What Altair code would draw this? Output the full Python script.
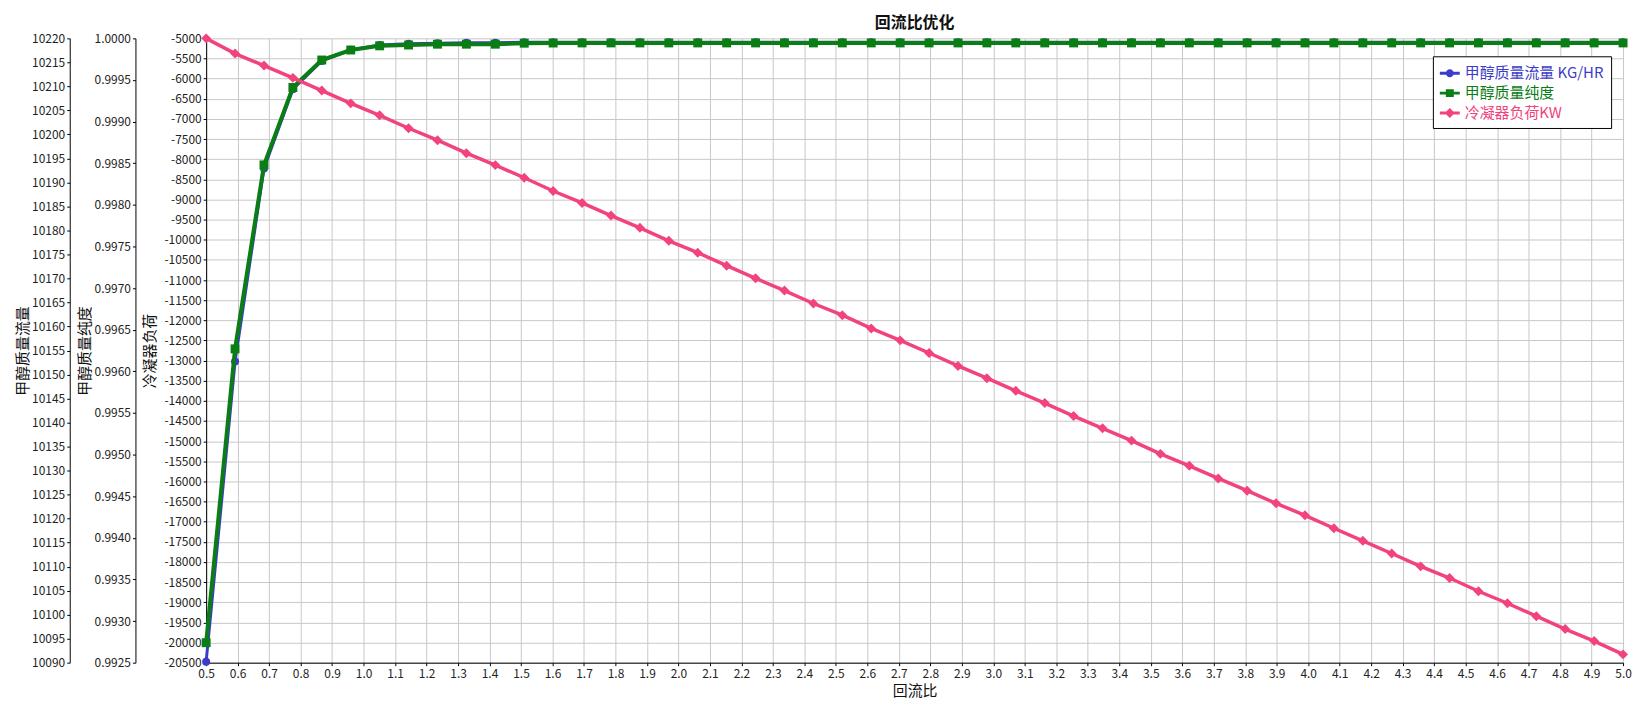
import altair as alt
import pandas as pd

# ---------------- data ----------------
reflux_ratio = [
    0.5, 0.5918, 0.6837, 0.7755, 0.8673, 0.9592, 1.051, 1.1429, 1.2347, 1.3265,
    1.4184, 1.5102, 1.602, 1.6939, 1.7857, 1.8776, 1.9694, 2.0612, 2.1531, 2.2449,
    2.3367, 2.4286, 2.5204, 2.6122, 2.7041, 2.7959, 2.8878, 2.9796, 3.0714, 3.1633,
    3.2551, 3.3469, 3.4388, 3.5306, 3.6224, 3.7143, 3.8061, 3.898, 3.9898, 4.0816,
    4.1735, 4.2653, 4.3571, 4.449, 4.5408, 4.6327, 4.7245, 4.8163, 4.9082, 5.0,
]

methanol_flow = [
    10090.2, 10152.7, 10192.9, 10209.4, 10215.3, 10217.6, 10218.6, 10218.9, 10219.0, 10219.1,
    10219.1, 10219.2, 10219.2, 10219.2, 10219.2, 10219.2, 10219.2, 10219.2, 10219.2, 10219.2,
    10219.2, 10219.2, 10219.2, 10219.2, 10219.2, 10219.2, 10219.2, 10219.2, 10219.2, 10219.2,
    10219.2, 10219.2, 10219.2, 10219.2, 10219.2, 10219.2, 10219.2, 10219.2, 10219.2, 10219.2,
    10219.2, 10219.2, 10219.2, 10219.2, 10219.2, 10219.2, 10219.2, 10219.2, 10219.2, 10219.2,
]

methanol_purity = [
    0.99274, 0.99627, 0.99848, 0.99941, 0.99974, 0.99986, 0.99991, 0.99992, 0.99993, 0.99993,
    0.99993, 0.999942, 0.999944, 0.999945, 0.999945, 0.999945, 0.999945, 0.999945, 0.999945, 0.999945,
    0.999945, 0.999945, 0.999945, 0.999945, 0.999945, 0.999945, 0.999945, 0.999945, 0.999945, 0.999945,
    0.999945, 0.999945, 0.999945, 0.999945, 0.999945, 0.999945, 0.999945, 0.999945, 0.999945, 0.999945,
    0.999945, 0.999945, 0.999945, 0.999945, 0.999945, 0.999945, 0.999945, 0.999945, 0.999945, 0.999945,
]

condenser_duty = [
    -5000, -5378, -5676, -5981, -6297, -6614, -6911, -7232, -7529, -7850,
    -8147, -8461, -8790, -9086, -9400, -9704, -10026, -10322, -10644, -10958,
    -11262, -11583, -11872, -12201, -12498, -12812, -13133, -13437, -13751, -14055,
    -14377, -14682, -14987, -15316, -15612, -15926, -16230, -16544, -16841, -17162,
    -17475, -17790, -18109, -18398, -18727, -19024, -19345, -19666, -19963, -20294,
]

series_names = ["甲醇质量流量 KG/HR", "甲醇质量纯度", "冷凝器负荷KW"]
series_colors = ["#3c3cc8", "#0a7d14", "#f2437c"]

x_ticks = [round(0.5 + 0.1 * i, 1) for i in range(46)]
flow_ticks = list(range(10090, 10221, 5))
purity_ticks = [round(0.9925 + 0.0005 * i, 4) for i in range(16)]
duty_ticks = list(range(-20500, -4999, 500))

# legend symbols: line segment + marker
legend_paths = [
    "M-1,-0.15H1V0.15H-1Z M-0.4,0A0.4,0.4,0,1,1,0.4,0A0.4,0.4,0,1,1,-0.4,0Z",
    "M-1,-0.15H1V0.15H-1Z M-0.4,-0.4H0.4V0.4H-0.4Z",
    "M-1,-0.15H1V0.15H-1Z M0,-0.5L0.5,0L0,0.5L-0.5,0Z",
]

FONT = "Noto Sans CJK SC"

df = pd.DataFrame({
    "x": reflux_ratio,
    "flow": methanol_flow,
    "purity": methanol_purity,
    "duty": condenser_duty,
})

base = alt.Chart(df)

x_enc = alt.X(
    "x:Q",
    scale=alt.Scale(domain=[0.5, 5.0], nice=False, zero=False),
    axis=alt.Axis(values=x_ticks, format=".1f", title="回流比", grid=True,
                  labelPadding=3, titlePadding=4, labelFlush=False),
)

flow_layer = base.mark_line(
    color=series_colors[0], strokeWidth=3,
    point=alt.OverlayMarkDef(shape="circle", size=65, filled=True, color=series_colors[0]),
).encode(
    x=x_enc,
    y=alt.Y("flow:Q",
            scale=alt.Scale(domain=[10090, 10220], nice=False, zero=False),
            axis=alt.Axis(orient="left", offset=137, values=flow_ticks,
                          labelExpr="'' + datum.value", grid=False, labelFlush=False,
                          title="甲醇质量流量", titlePadding=1)),
)

purity_layer = base.mark_line(
    color=series_colors[1], strokeWidth=4,
    point=alt.OverlayMarkDef(shape="square", size=80, filled=True, color=series_colors[1]),
).encode(
    x=x_enc,
    y=alt.Y("purity:Q",
            scale=alt.Scale(domain=[0.9925, 1.0], nice=False, zero=False),
            axis=alt.Axis(orient="left", offset=71, values=purity_ticks,
                          format=".4f", grid=False, labelFlush=False,
                          title="甲醇质量纯度", titlePadding=2)),
)

duty_layer = base.mark_line(
    color=series_colors[2], strokeWidth=3.5,
    point=alt.OverlayMarkDef(shape="diamond", size=100, filled=True, color=series_colors[2]),
).encode(
    x=x_enc,
    y=alt.Y("duty:Q",
            scale=alt.Scale(domain=[-20500, -5000], nice=False, zero=False),
            axis=alt.Axis(orient="left", offset=0, values=duty_ticks,
                          labelExpr="'' + datum.value", grid=True, labelFlush=False,
                          title="冷凝器负荷", titlePadding=6)),
)

label_color_expr = (
    f"datum.value == '{series_names[0]}' ? '{series_colors[0]}' : "
    f"(datum.value == '{series_names[1]}' ? '{series_colors[1]}' : '{series_colors[2]}')"
)

legend_def = alt.Legend(
    title=None, orient="none", legendX=1232, legendY=18,
    symbolSize=400, symbolOpacity=1, symbolStrokeWidth=0,
    labelFontSize=15, labelFont=FONT, labelOffset=5,
    labelColor=alt.ExprRef(label_color_expr),
    strokeColor="black", fillColor="white", padding=7, rowPadding=2,
)

legend_df = pd.DataFrame({"series": series_names})
legend_layer = alt.Chart(legend_df).mark_point(filled=True, opacity=0).encode(
    x=alt.value(0),
    y=alt.value(0),
    color=alt.Color("series:N", scale=alt.Scale(domain=series_names, range=series_colors),
                    legend=legend_def),
    shape=alt.Shape("series:N", scale=alt.Scale(domain=series_names, range=legend_paths),
                    legend=legend_def),
)

chart = alt.layer(
    flow_layer, purity_layer, duty_layer, legend_layer
).resolve_scale(
    y="independent"
).properties(
    width=1423,
    height=627,
    padding={"left": 7, "top": 6, "right": 5, "bottom": 2},
    title=alt.TitleParams("回流比优化", fontSize=16, fontWeight="bold", font=FONT,
                          anchor="middle", offset=0, color="#111"),
).configure_view(
    stroke=None
).configure_axis(
    labelFont=FONT, titleFont=FONT, labelFontSize=12, labelColor="#222",
    titleFontSize=15, titleFontWeight="normal", titleColor="#111",
    domainColor="black", domainWidth=1, tickColor="black", tickSize=3,
    labelPadding=2, gridColor="#c8c8c8", gridWidth=1,
)

chart.save("out.html", embed_options={"renderer": "svg", "actions": False})
